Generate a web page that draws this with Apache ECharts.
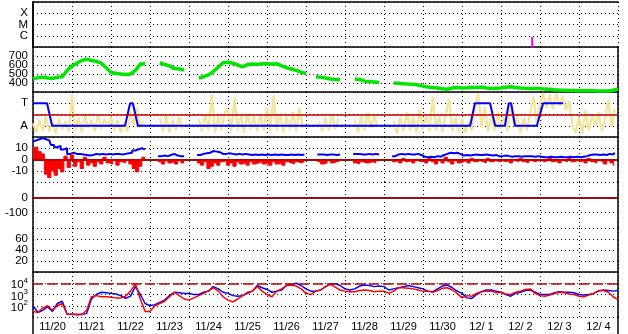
<!DOCTYPE html>
<html><head><meta charset="utf-8">
<script src="https://cdn.jsdelivr.net/npm/echarts@6/dist/echarts.min.js"></script>
<style>html,body{margin:0;padding:0;background:#fff}#c{width:628px;height:334px}</style>
</head><body><div id="c"></div><script>
// ---------- categories / tick labels ----------
const dateLabels = ['11/20','11/21','11/22','11/23','11/24','11/25','11/26','11/27','11/28','11/29','11/30','12/ 1','12/ 2','12/ 3','12/ 4'];
const flareClassLabels = {'-4':'X','-5':'M','-6':'C'};
const speedLabels = {'400':'400','500':'500','600':'600','700':'700'};
const sectorLabels = {'1':'A','3':'T'};
const imfLabels = {'10':'10','0':'0','-10':'-10'};
const dstLabels = {'0':'0','-100':'-100'};
const kpLabels = {'20':'20','40':'40','60':'60'};
const electronLabels = {'2':'2','3':'3','4':'4'};

// ---------- data (time in days from 11/20 00:00) ----------
const flareTimes = [12.80, 12.80, 12.84];
const flareLog = [-6.1, -6.95, -6.95];

// solar wind speed, 3-hour steps
const speedKmS = [
 445,460,465,455,450,465,470,540,
 590,620,650,665,650,640,620,570,
 520,505,500,495,500,540,610,615,
 null,null,625,605,590,560,555,545,
 null,null,455,470,490,530,575,625,
 630,620,600,580,605,610,605,615,
 615,610,615,590,570,555,540,520,
 505,null,470,465,455,445,440,435,
 null,null,445,440,420,418,412,405,
 null,null,400,398,392,388,385,378,
 365,355,350,345,335,330,345,350,
 345,348,352,350,355,345,340,343,
 345,352,358,350,345,342,340,338,
 338,332,330,325,322,320,318,318,
 315,316,314,313,312,311,312,320,
 335];

// IMF angle (panel scale 0..4), 2-hour steps
const imfAngle = [
 1.2,0.4,1.5,0.6,1.8,0.5,1.3,0.3,1.6,0.7,1.4,0.5,
 3.8,0.6,1.7,0.4,1.9,0.8,1.5,0.5,2.0,0.7,1.6,0.9,
 1.8,0.6,1.5,0.4,1.2,0.5,2.2,1.0,2.6,0.8,1.4,null,
 null,null,null,1.7,0.5,1.9,0.4,1.5,0.6,1.8,0.7,null,
 null,null,null,1.6,0.5,2.0,0.6,3.8,0.4,1.8,0.6,2.2,
 2.4,0.5,3.5,0.6,1.9,0.4,2.1,0.7,1.8,0.5,2.0,0.6,
 2.6,0.5,3.7,0.6,2.0,0.4,1.8,0.7,2.2,0.5,2.6,0.8,
 null,null,null,null,1.4,0.5,1.7,0.6,2.0,0.7,1.6,null,
 null,null,null,1.5,0.4,1.8,0.6,2.2,0.8,1.9,0.9,null,
 null,null,null,1.4,0.3,1.8,0.5,2.2,0.6,1.7,0.4,2.4,
 0.7,1.9,0.5,3.6,0.6,1.8,0.4,2.0,3.4,0.5,1.7,0.4,
 1.6,0.4,1.3,0.6,2.4,3.9,0.8,2.7,0.5,1.8,0.6,2.3,
 0.7,2.0,0.5,3.0,1.0,1.8,0.4,1.7,0.6,2.2,3.6,1.2,
 3.0,3.9,2.6,3.7,2.5,3.9,2.8,3.6,2.4,3.2,1.0,0.4,
 1.8,0.3,2.4,0.6,1.9,1.0,2.2,0.5,1.6,3.3,0.9,2.5];

// magnetic sector (1 = A, 3 = T)
const sectorTimes = [0,0.36,0.49,2.36,2.49,2.56,2.69,11.21,11.33,11.72,11.85,12.1,12.2,12.26,12.36,12.92,13.08,13.59];
const sectorLevels = [3,3,1,1,3,3,1,1,3,3,1,1,3,3,1,1,3,3];

// IMF Bt and Bz (nT), 2-hour steps
const btNT = [
 16,17,18,19,18,17,13,11,12,9,10,5,
 6,5,5,4.5,4,3.5,4,5,4.5,5,4.5,5,
 4.5,5,5,4.5,5,5.5,6,8,9,10,9,null,
 null,null,null,3,3.5,3,4,5,3.5,3,3,null,
 null,null,null,4,5,5.5,6,7.5,7,6.5,5,5,
 5.5,5,4.5,5,4.5,5,4.5,4,4.5,4,4.5,4,
 4.5,4,4.5,4,4.5,4,4,4.5,4,4.5,4,4.5,
 null,null,null,null,4.5,4.5,4,4.5,4.5,4,4.5,null,
 null,null,null,5,5,4.5,4.5,5,4.5,5,4.5,null,
 null,null,null,3,4.5,5,4.5,5,4.5,4.5,5,4,
 2.5,2,2.5,2,3,2.5,4,5,6,5.5,6,5,
 3.5,4,3.5,4,4.5,4,4,4.5,4,3.5,4,3,
 3,3.5,3,2.5,3,3,2.5,3,3,3,2.5,3,
 2.5,2,2,2.5,2,2,2.5,2,2,2.5,2,2.5,
 2,2.5,3,4,4.5,4.5,4,4.5,4,5,4.5,6];
const bzNT = [
 9,11,7,5,-13,-16,-10,-14,-8,-11,3,-7,
 4,-6,-2,-8,2,-5,-3,-6,-2,-4,2,-3,
 -4,-1,-5,-2,-3,-1,-4,-8,-11,-6,2,null,
 null,null,null,-2,-4,-1,-3,-2,-4,-1,-3,null,
 null,null,null,-3,-5,-2,-8,-6,-3,-5,-2,-1,
 -5,-3,-6,-2,-4,-3,-5,-2,-4,-3,-2,-4,
 -3,-5,-2,-4,-3,-5,-2,-3,-4,-2,-3,-2,
 null,null,null,null,-2,-4,-3,-1,-3,-2,-1,null,
 null,null,null,-3,-4,-2,-3,-3,-2,-3,-1,null,
 null,null,null,-2,-1,-3,1,-2,-1,-3,-1,-2,
 -1,-3,1,-2,-4,-1,-3,2,-2,-4,-1,-3,
 -2,-1,-3,1,-2,-1,-2,-3,1,-2,-1,-2,
 -1,-2,-1,-3,-1,-2,1,-2,-3,-1,-2,-1,
 -1,-2,-1,1,-2,-1,-3,-1,-2,1,-2,-1,
 -2,-1,-3,1,-2,-3,-1,-2,-4,-1,-3,-5];

// electron flux (log10), 3-hour steps
const electronLogBlue = [
 2.0,1.4,1.6,1.9,1.5,2.2,2.4,1.25,
 1.25,1.2,1.25,1.3,2.6,3.0,3.2,3.15,
 3.1,3.05,2.9,2.65,2.85,3.7,3.0,2.2,
 2.0,2.1,2.3,2.5,2.9,3.2,3.15,3.1,
 3.1,3.0,3.0,3.2,3.3,3.7,3.5,3.2,
 3.1,2.9,2.85,2.9,3.1,3.3,3.8,3.6,
 3.45,3.2,3.3,3.4,3.8,3.9,4.0,3.8,
 3.5,3.3,3.3,3.4,3.7,3.95,3.95,3.8,
 3.5,3.4,3.5,3.75,3.85,3.8,3.7,3.75,
 3.7,3.4,3.5,3.6,3.7,3.8,3.7,3.6,
 3.5,3.3,3.25,3.5,3.75,3.85,3.6,3.3,
 3.1,2.7,2.65,3.0,3.25,3.4,3.4,3.3,
 3.2,3.0,2.85,3.1,3.2,3.35,3.4,3.2,
 3.0,3.0,3.0,3.15,3.25,3.2,3.2,3.15,
 3.0,2.95,3.0,3.1,3.3,3.4,3.35,3.3,
 3.35];
const electronLogRed = [
 1.5,1.4,1.8,2.0,1.6,2.0,2.2,1.25,
 1.25,1.25,1.2,1.6,2.8,2.9,2.8,2.8,
 2.75,2.7,2.7,2.85,3.3,3.95,2.6,1.5,
 1.5,2.0,2.2,2.4,2.8,3.2,2.9,2.6,
 2.5,2.7,2.9,3.1,3.35,3.6,3.3,2.8,
 2.5,2.35,2.6,2.9,3.2,3.3,3.7,3.3,
 3.0,2.8,3.3,3.5,3.8,3.85,3.75,3.5,
 3.1,3.0,3.3,3.4,3.7,3.9,3.65,3.4,
 3.3,3.25,3.25,3.35,3.4,3.35,3.25,3.3,
 3.3,3.1,3.3,3.6,3.6,3.55,3.5,3.4,
 3.3,3.3,3.2,3.35,3.55,3.6,3.4,3.1,
 2.7,2.9,2.85,3.1,3.25,3.3,3.3,3.15,
 3.2,3.05,3.0,3.2,3.3,3.45,3.5,3.1,
 2.9,2.85,2.95,3.1,3.2,3.15,3.05,3.0,
 2.85,2.8,2.95,3.1,3.35,3.35,3.2,2.8,
 2.55];

// ---------- chart ----------
const FONT = 'Liberation Sans, Arial, sans-serif';
const STEP2H = 1/12, STEP3H = 1/8;
const pts = (vals, step) => vals.map((v, i) => [i * step, v]);
const pairs = (ts, vs) => ts.map((t, i) => [t, vs[i]]);

const panels = [
  {top:2,   height:45, min:-7,   max:-3,  interval:1,   labels:flareClassLabels},
  {top:47,  height:45, min:300,  max:800, interval:100, labels:speedLabels},
  {top:92,  height:45, min:0,    max:4,   interval:1,   labels:sectorLabels},
  {top:137, height:45, min:-20,  max:20,  interval:10,  labels:imfLabels},
  {top:182, height:46, min:-200, max:100, interval:100, labels:dstLabels},
  {top:228, height:44, min:0,    max:80,  interval:20,  labels:kpLabels},
  {top:272, height:45, min:1,    max:5,   interval:1,   labels:electronLabels, sup:true}
];
const LEFT = 33, RIGHT = 10;
const dotted = {color:'#000', type:[1,3], width:1};
const solid = {color:'#000', width:1.5};

const grid = panels.map(p => ({left:LEFT, right:RIGHT, top:p.top, height:p.height}));
grid.push({left:LEFT, right:RIGHT, top:317, height:17});

const xAxis = panels.map((p, i) => ({
  gridIndex:i, type:'value', min:0, max:15, interval:1,
  axisLine:{show:i < 6, lineStyle:solid}, axisTick:{show:false}, axisLabel:{show:false},
  splitLine:{show:true, lineStyle:dotted}
}));
xAxis.push({gridIndex:0, type:'value', position:'top', min:0, max:15, axisLine:{show:true, lineStyle:solid}, axisTick:{show:false}, axisLabel:{show:false}, splitLine:{show:false}});
xAxis.push({gridIndex:6, type:'category', data:dateLabels, position:'bottom', boundaryGap:true,
  axisLine:{show:false}, axisTick:{show:false}, splitLine:{show:false},
  axisLabel:{interval:0, margin:4, fontSize:11, color:'#000', fontFamily:FONT}});
xAxis.push({gridIndex:7, type:'value', min:0, max:15, show:false});

const yAxis = panels.map((p, i) => ({
  gridIndex:i, type:'value', min:p.min, max:p.max, interval:p.interval,
  axisLine:{show:true, lineStyle:solid}, axisTick:{show:false},
  splitLine:{show:true, lineStyle:dotted},
  axisLabel:{
    margin:5, fontSize:11.5, color:'#000', fontFamily:FONT, showMinLabel:true, showMaxLabel:true,
    formatter: v => {
      const t = p.labels[String(v)];
      if (t === undefined) return '';
      return p.sup ? '{b|10}{s|' + t + '}' : t;
    },
    rich: p.sup ? {b:{fontSize:11.5, fontFamily:FONT, color:'#000', padding:[4,0,0,0]}, s:{fontSize:8, fontFamily:FONT, color:'#000', padding:[0,0,5,0]}} : undefined
  }
}));
panels.forEach((p, i) => yAxis.push({gridIndex:i, type:'value', position:'right', min:p.min, max:p.max,
  axisLine:{show:true, lineStyle:solid}, axisTick:{show:false}, axisLabel:{show:false}, splitLine:{show:false}}));
yAxis.push({gridIndex:7, type:'value', min:0, max:1, axisLine:{show:true, lineStyle:solid}, axisTick:{show:false}, axisLabel:{show:false}, splitLine:{show:false}});
yAxis.push({gridIndex:7, type:'value', position:'right', min:0, max:1, axisLine:{show:true, lineStyle:solid}, axisTick:{show:false}, axisLabel:{show:false}, splitLine:{show:false}});

const refLine = (v, type) => ({silent:true, symbol:'none', label:{show:false}, animation:false,
  lineStyle:{color:'#c00000', width:1.5, type:type || 'solid'}, data:[{yAxis:v}]});
const line = (xi, data, color, width, extra) => Object.assign({
  type:'line', xAxisIndex:xi, yAxisIndex:xi, data, symbol:'none', showSymbol:false,
  connectNulls:false, lineStyle:{color, width}, itemStyle:{color}, silent:true
}, extra || {});

const series = [
  line(0, pairs(flareTimes, flareLog), '#ff00ff', 2),
  line(1, pts(speedKmS, STEP3H), '#00e600', 3.5),
  line(2, pts(imfAngle, STEP2H), '#f6e39a', 2.2),
  line(2, pairs(sectorTimes, sectorLevels), '#0000ff', 2, {markLine: refLine(2)}),
  line(3, pts(btNT, STEP2H), '#0000ff', 2, {step:'middle'}),
  line(3, pts(bzNT, STEP2H), '#ff0000', 1, {step:'middle', areaStyle:{color:'#ff0000', opacity:1, origin:0}, markLine: refLine(0)}),
  line(4, [], '#000', 1, {markLine: refLine(0)}),
  line(6, pts(electronLogBlue, STEP3H), '#0000ff', 1.5),
  line(6, pts(electronLogRed, STEP3H), '#ff0000', 1.5, {markLine: refLine(4, [10,4])})
];

const chart = echarts.init(document.getElementById('c'), null, {renderer:'canvas'});
chart.setOption({animation:false, backgroundColor:'#fff', grid, xAxis, yAxis, series});
</script></body></html>
